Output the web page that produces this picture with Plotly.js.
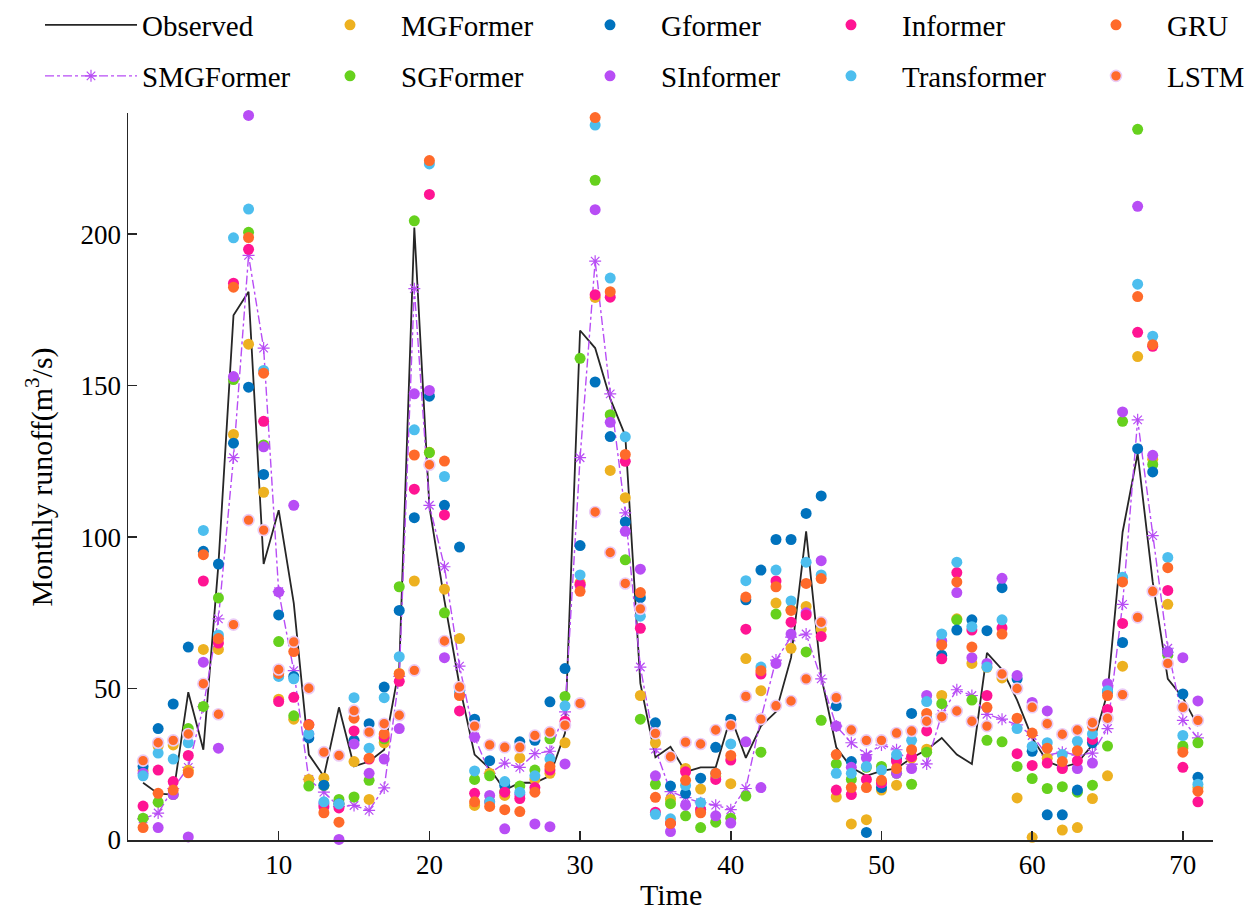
<!DOCTYPE html>
<html>
<head>
<meta charset="utf-8">
<script src="https://cdn.plot.ly/plotly-3.0.1.min.js"></script>
<style>
html,body{margin:0;padding:0;background:#fff;}
#chart{width:1246px;height:915px;}
</style>
</head>
<body>
<div id="chart"></div>
<script>
const time = Array.from({length: 71}, (_, i) => i + 1);

const observed = [18.9,15.3,15,48.8,29.8,91,173.2,181,91.1,108.9,78.2,28.2,21,43.8,24.3,25.9,29.8,57,202.2,110,
  79,51,28.2,23.6,16.5,18.9,18.9,21.2,35.3,168.2,162.4,145.7,133.5,51.7,27.3,30.8,22.5,24,24,40.7,
  27.1,37.6,42.3,60.2,101.9,54,30.6,23.9,21.2,22.8,23.6,27.1,29.8,33.7,28.2,25.1,61.8,56.3,46.2,33.7,
  25.9,24,25.4,31.4,48.5,101.6,127.6,85.2,53.2,47,37.6];

const smgformer = [7,8.9,17,24,44,73,126.2,193,162.4,82,55.9,20,15.8,11,11.4,9.8,17.2,54,182,110.5,
  90.2,57.4,34,22,25.4,24,28.5,29.3,42.3,126.2,191.1,147.3,108,57.1,30,16,14,12.3,11.5,10,
  17,40,59.4,67,68,53.2,37.6,32.1,28.2,31.4,29.8,25,25.1,41.5,49.6,47.7,41.5,39.9,38,34.5,
  28,29,28,28.7,36.8,77.8,138.7,100.5,63.3,39.5,33.7];

const mgformer = [23,31,31.4,23,62.9,62.9,133.9,163.7,114.8,46.5,39.9,20,20.4,12,25.9,13.4,32.1,55,85.5,128,
  82.8,66.5,11.4,22,14.7,27.1,20,22,32.1,85,179.1,122,113,47.7,32.1,13.4,23.6,16.8,21,18.6,
  59.9,49.3,78.2,63.3,77.1,69.6,14.2,5.3,6.7,16.5,18.1,27,30,47.7,73,58.3,57,53.5,13.9,0.9,
  27,3.3,4.1,13.7,21.2,57.4,159.6,125.7,77.8,30.3,17.3];

const sgformer = [7.2,12.5,15,36.8,44.1,79.9,152,200.6,130.4,65.5,41,17.8,18,13.4,14.2,19.7,33.4,83.6,204.4,127.9,
  75,50,20,21.2,16,17.8,23.1,33.4,47.4,159,217.8,140.4,92.5,39.9,18.4,12,8,4.1,5.9,7.2,
  14.5,29,74.6,76,62.1,39.5,25.1,20,24,24.3,22,18.4,29,45,72.7,46.2,32.9,32.4,24.3,20.3,
  17,17.6,15.8,18.1,31,138.2,234.6,124,61,31,32.1];

const gformer = [24.3,36.8,44.9,63.7,95.3,91.1,131,149.5,120.7,74.3,54,33.7,18.1,11.9,32.9,38.4,50.5,75.8,106.4,146.5,
  110.5,96.7,39.9,26.2,18,32.4,32.9,45.6,56.6,97.2,151.2,133.2,105,80,38.7,17.8,15.4,20.4,30.6,39.9,
  79.3,89.1,99.2,99.2,107.8,113.6,44.3,25.9,2.5,17.3,26.7,41.8,40,61,69.3,72.7,69.1,83.3,53.2,29.3,
  8.3,8.3,16.5,32.1,49,65.2,129.2,121.5,62,48.2,20.7];

const sinformer = [22,4.1,15,1,58.7,30.3,153,239.2,129.8,81.9,110.5,35,12,0.2,31.7,22,26.7,36.8,147.3,148.4,
  60.2,48,34,14.7,3.7,15,5.3,4.4,25.1,84,208.1,137.9,101.9,89.4,21.2,2.8,11.5,10,8,5.6,
  32.4,17.3,58.3,68,75,92.2,37.6,24,27.1,18.9,22,23.6,47.7,65.7,81.7,60.2,58.3,86.4,54.3,45.4,
  42.6,24,23.6,25.4,51.6,141.3,209.2,127,62,60.2,45.9];

const informer = [11.2,23.1,19.3,27.9,85.5,65,183.8,195,138.2,45.7,47.1,38.1,11,10.6,36,26.7,34,52.4,115.8,213.1,
  107.3,42.6,15.4,12.6,15.8,13.7,17.3,23.1,39.2,84.4,180,179.2,125,69.9,9.2,5.5,22.5,10,20,26.4,
  69.6,54.8,85.5,71.9,74.3,67.2,16.5,15,20,18.9,26,27.5,36,59.8,88.3,69.3,47.7,70,28.5,24.6,
  25.4,23.6,26.2,33.2,43.1,71.5,167.6,163,82.4,24,12.6];

const transformer = [21.2,28.7,26.7,32.1,102.2,67.7,198.8,208.3,155,54,53.2,35,12.6,11.9,47,30.3,47,60.5,135.4,223.2,
  120,49,22.8,12.6,19.3,15.8,21.2,26.7,44.3,87.5,236,185.5,133.1,73.9,8.5,7,18,12.3,22,31.7,
  85.6,57.1,89.1,78.9,91.7,87.5,22,22,24.3,23.1,28.2,32.9,45.7,68,91.7,70.4,57.1,72.7,36.8,30.9,
  32.1,28.2,32.6,35,49.3,86.7,183.5,166.3,93.3,34.5,18.4];

const gru = [4.1,15.4,16.5,22.2,94.2,66.5,182.5,198.9,154.1,55,62.2,38,9,5.9,40.2,27,35,54.8,127.1,224.3,
  125.1,47.7,12.6,11.1,10,9.4,15.8,24.3,38,82.1,238.5,181,127.3,81.7,14.1,5.5,19.7,9,22,27.9,
  80.2,55.9,83.6,75.8,84.7,86.3,28.2,17.3,17.3,19.7,23.6,29.8,41.8,64.4,85.2,63.7,43.8,68,40.2,35.3,
  30.3,25.9,29.5,37.6,47.7,85.2,179.4,163.5,89.9,29,16.1];

const lstm = [26.2,32.1,32.9,35,51.6,41.5,71.1,105.6,102.3,56.3,65.4,50.1,29,27.9,42.7,35.6,38.4,41.2,56,123.9,
  65.7,50.5,37.6,31.4,30.6,30.6,34.5,35.6,37.9,45.1,108.3,94.9,84.7,76.3,35.2,27.5,32.3,31.7,36.3,37.9,
  47.4,39.9,44.3,45.9,53.2,71.9,47,36.3,32.9,32.9,35.3,36,39.2,40.7,42.6,39.2,37.6,54.8,50,43.8,
  38.4,34.9,36.3,38.7,40.2,48,73.5,82.1,58.3,43.8,39.5];

const xTicks = [10, 20, 30, 40, 50, 60, 70];
const yTicks = [0, 50, 100, 150, 200];
const xTitle = 'Time';
const yTitle = 'Monthly runoff(m<sup>3</sup>/s)';

const FONT = 'Liberation Serif, Times New Roman, serif';
const DOT = 11;

function dots(name, y, color, lineColor, lineW) {
  return {
    x: time, y: y, name: name, type: 'scatter', mode: 'markers', cliponaxis: false,
    marker: {size: DOT, color: color, line: {color: lineColor || color, width: lineW || 0}}
  };
}

const traces = [
  {x: time, y: observed, name: 'Observed', type: 'scatter', mode: 'lines', cliponaxis: false,
   line: {color: '#262626', width: 1.8}},
  {x: time, y: smgformer, name: 'SMGFormer', type: 'scatter', mode: 'lines+markers', cliponaxis: false,
   line: {color: '#B84DF5', width: 1.4, dash: 'dashdot'},
   marker: {symbol: 'asterisk-open', size: 10, color: '#B84DF5', line: {color: '#B84DF5', width: 1.2}}},
  dots('MGFormer', mgformer, '#EDB120'),
  dots('SGFormer', sgformer, '#66D11D'),
  dots('Gformer', gformer, '#0072BD'),
  dots('SInformer', sinformer, '#B84DF5'),
  dots('Informer', informer, '#FF1493'),
  dots('Transformer', transformer, '#4DBEEE'),
  dots('GRU', gru, '#FF6A2A'),
  dots('LSTM', lstm, '#FF6A2A', '#EACBF5', 1.6)
];

// legend slots: [textStartX, rowCenterY] in container pixels
const legendSlots = [
  [146, 25], [146, 76],
  [405, 25], [405, 76],
  [665, 25], [665, 76],
  [906, 25], [906, 76],
  [1171, 25], [1171, 76]
];
const legendOrder = ['Observed','SMGFormer','MGFormer','SGFormer','Gformer','SInformer','Informer','Transformer','GRU','LSTM'];
const W = 1246, H = 915, IW = 92;
const M = {l: 128, r: 33, t: 113, b: 75};
const plotW = W - M.l - M.r, plotH = H - M.t - M.b;

const layout = {
  width: W, height: H,
  paper_bgcolor: '#ffffff', plot_bgcolor: '#ffffff',
  margin: {l: M.l, r: M.r, t: M.t, b: M.b, autoexpand: false},
  font: {family: FONT, color: '#000000', size: 26},
  showlegend: true,
  xaxis: {
    range: [0, 72], tickvals: xTicks, ticktext: xTicks.map(String),
    showline: true, linecolor: '#262626', linewidth: 1.5, mirror: false,
    ticks: 'inside', ticklen: 9, tickwidth: 1.5, tickcolor: '#262626',
    showgrid: false, zeroline: false, automargin: false,
    tickfont: {family: FONT, size: 27, color: '#000'}
  },
  yaxis: {
    range: [0, 240], tickvals: yTicks, ticktext: yTicks.map(String),
    showline: true, linecolor: '#262626', linewidth: 1.5, mirror: false,
    ticks: 'inside', ticklen: 9, tickwidth: 1.5, tickcolor: '#262626',
    showgrid: false, zeroline: false, automargin: false,
    tickfont: {family: FONT, size: 27, color: '#000'}
  },
  annotations: [
    {text: xTitle, xref: 'paper', yref: 'paper', x: 0.5, y: (H - M.b - 894) / plotH,
     xanchor: 'center', yanchor: 'middle', showarrow: false,
     font: {family: FONT, size: 30, color: '#000'}},
    {text: yTitle, xref: 'paper', yref: 'paper', x: (40 - M.l) / plotW, y: 0.5,
     xanchor: 'center', yanchor: 'middle', showarrow: false, textangle: -90,
     font: {family: FONT, size: 30, color: '#000'}}
  ]
};

traces.forEach((tr) => {
  const k = legendOrder.indexOf(tr.name);
  const key = k === 0 ? 'legend' : 'legend' + (k + 1);
  tr.legend = key;
  const slot = legendSlots[k];
  layout[key] = {
    xref: 'container', yref: 'container',
    x: (slot[0] - IW - 14) / W, y: 1 - slot[1] / H,
    xanchor: 'left', yanchor: 'middle',
    bgcolor: 'rgba(0,0,0,0)', borderwidth: 0,
    itemwidth: IW,
    font: {family: FONT, size: 29, color: '#000'}
  };
});

Plotly.newPlot('chart', traces, layout, {displayModeBar: false, staticPlot: true});
</script>
</body>
</html>
